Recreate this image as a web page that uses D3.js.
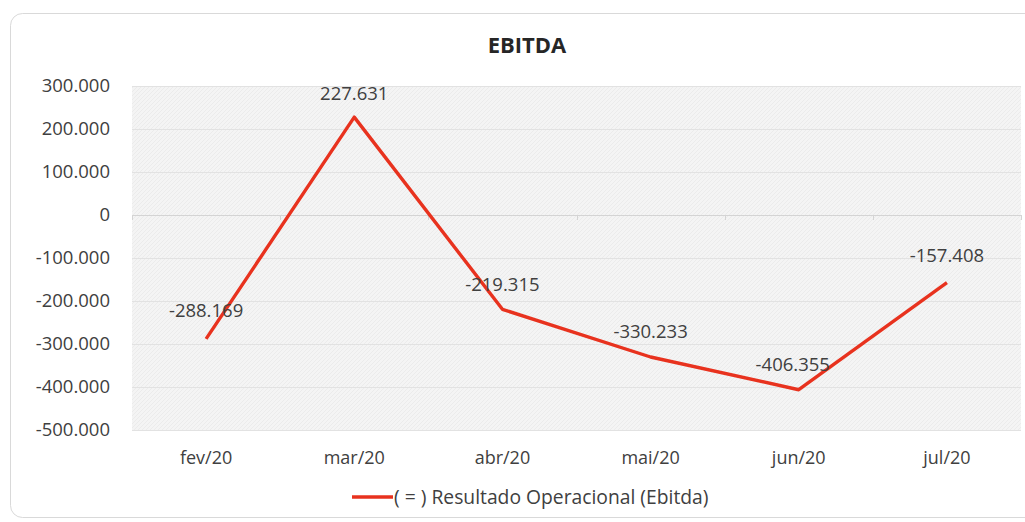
<!DOCTYPE html>
<html><head><meta charset="utf-8">
<script src="https://cdn.jsdelivr.net/npm/d3@7"></script>
<style>
html,body{margin:0;padding:0;background:#fff;}
svg{display:block;font-family:"Open Sans","Noto Sans",sans-serif;}
</style></head>
<body><svg id="c" width="1025" height="522"></svg>
<script>
const categories = ["fev/20","mar/20","abr/20","mai/20","jun/20","jul/20"];
const values = [-288169, 227631, -219315, -330233, -406355, -157408];
const valueLabels = ["-288.169","227.631","-219.315","-330.233","-406.355","-157.408"];
const yTicks = [300000,200000,100000,0,-100000,-200000,-300000,-400000,-500000];
const yTickLabels = ["300.000","200.000","100.000","0","-100.000","-200.000","-300.000","-400.000","-500.000"];
const seriesName = "( = ) Resultado Operacional (Ebitda)";
const title = "EBITDA";

// label offsets (layout only)
const labelOffsets = [[0,-28],[0,-24],[0,-25],[0,-25],[-6,-25],[0,-27]];

const svg = d3.select("#c");
const defs = svg.append("defs");
const pat = defs.append("pattern").attr("id","hatch").attr("patternUnits","userSpaceOnUse")
  .attr("width",4).attr("height",4);
pat.append("rect").attr("width",4).attr("height",4).attr("fill","#f4f4f4");
pat.append("path").attr("d","M0,4 L4,0 M-1,1 L1,-1 M3,5 L5,3").attr("stroke","#ebebeb").attr("stroke-width",1);

// card
svg.append("rect").attr("x",10.5).attr("y",13.5).attr("width",1030).attr("height",504)
  .attr("rx",12).attr("fill","#fff").attr("stroke","#d9d9d9");

const L=132, R=1021, T=86, B=430;
const x = d3.scaleBand().domain(categories).range([L,R]);
const y = d3.scaleLinear().domain([-500000,300000]).range([B,T]);

svg.append("rect").attr("x",L).attr("y",T).attr("width",R-L).attr("height",B-T).attr("fill","url(#hatch)");

// gridlines
svg.append("g").selectAll("line").data(yTicks).join("line")
  .attr("x1",L).attr("x2",R).attr("y1",d=>Math.round(y(d))+0.5).attr("y2",d=>Math.round(y(d))+0.5)
  .attr("stroke",d=>d===0?"#d4d4d4":"#e2e2e2").attr("stroke-width",1);

// category ticks on zero line
svg.append("g").selectAll("line").data(categories.concat(["__end"])).join("line")
  .attr("x1",(d,i)=>Math.round(L+i*x.step())+0.5).attr("x2",(d,i)=>Math.round(L+i*x.step())+0.5)
  .attr("y1",y(0)).attr("y2",y(0)+5).attr("stroke","#d4d4d4");

// y axis labels
svg.append("g").selectAll("text").data(yTicks).join("text")
  .attr("x",110).attr("y",d=>y(d)).attr("dy","0.35em").attr("text-anchor","end")
  .attr("font-size",18.5).attr("fill","#404040").text((d,i)=>yTickLabels[i]);

// x labels
svg.append("g").selectAll("text").data(categories).join("text")
  .attr("x",d=>x(d)+x.bandwidth()/2).attr("y",458).attr("dy","0.35em").attr("text-anchor","middle")
  .attr("font-size",18).attr("fill","#404040").text(d=>d);

// line
const line = d3.line().x((d,i)=>x(categories[i])+x.bandwidth()/2).y(d=>y(d));
svg.append("path").datum(values).attr("d",line).attr("fill","none")
  .attr("stroke","#e8321e").attr("stroke-width",3.4).attr("stroke-linejoin","round");

// data labels
svg.append("g").selectAll("text").data(values).join("text")
  .attr("x",(d,i)=>x(categories[i])+x.bandwidth()/2+labelOffsets[i][0])
  .attr("y",(d,i)=>y(d)+labelOffsets[i][1]).attr("dy","0.35em").attr("text-anchor","middle")
  .attr("font-size",18.5).attr("fill","#404040").text((d,i)=>valueLabels[i]);

// title
svg.append("text").attr("x",527).attr("y",45).attr("dy","0.35em").attr("text-anchor","middle")
  .attr("font-size",22).attr("font-weight","bold").attr("fill","#262626").text(title);

// legend
svg.append("line").attr("x1",352).attr("x2",393).attr("y1",497).attr("y2",497)
  .attr("stroke","#e8321e").attr("stroke-width",3.4);
svg.append("text").attr("x",394).attr("y",497).attr("dy","0.35em").attr("font-size",19.3)
  .attr("fill","#404040").text(seriesName);
</script></body></html>
